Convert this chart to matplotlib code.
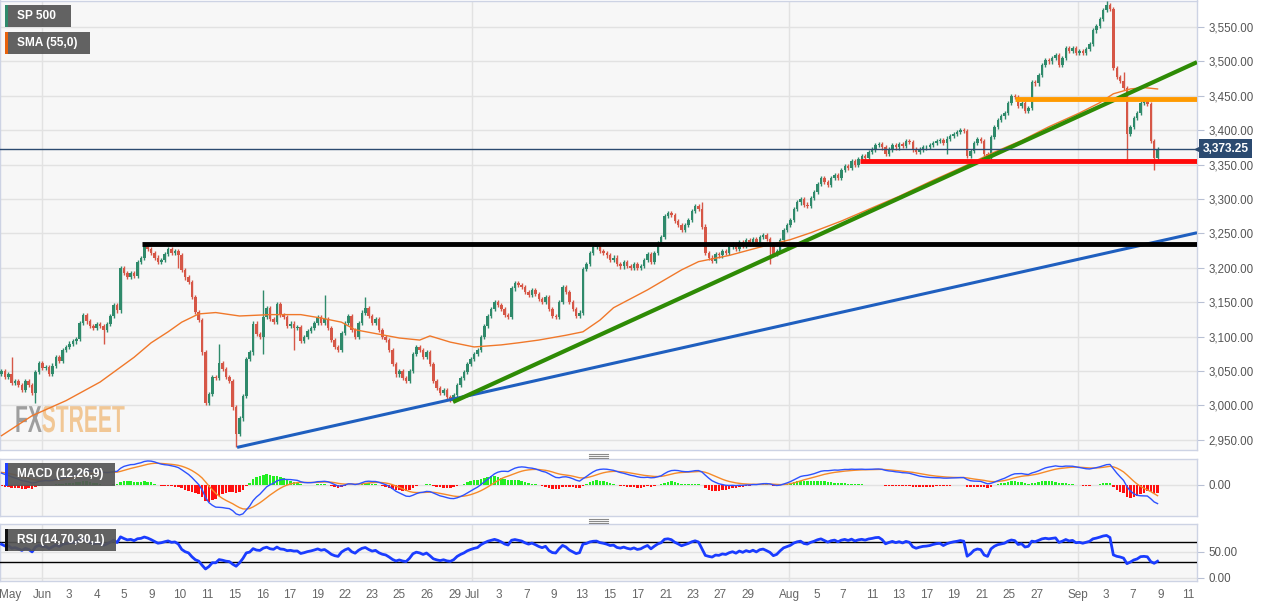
import numpy as np
import pandas as pd
import matplotlib
matplotlib.use("Agg")
import matplotlib.pyplot as plt
from matplotlib.patches import Rectangle, PathPatch
from matplotlib.lines import Line2D
from matplotlib.textpath import TextPath
from matplotlib.font_manager import FontProperties
from matplotlib.transforms import Affine2D, IdentityTransform, blended_transform_factory
from matplotlib.ticker import FuncFormatter

plt.rcParams['font.family'] = ['Liberation Sans', 'DejaVu Sans']

# ---------------- data ----------------
first_open = 3046
closes = [
    3050, 3042, 3045, 3032, 3036, 3030, 3023, 3035, 3030, 3018,
    3048, 3061, 3055, 3056, 3046, 3058, 3070, 3064, 3080, 3085,
    3090, 3093, 3097, 3120, 3132, 3122, 3116, 3112, 3118, 3116,
    3110, 3118, 3130, 3146, 3138, 3200, 3193, 3187, 3193, 3188,
    3209, 3214, 3232, 3228, 3222, 3215, 3208, 3212, 3220, 3227,
    3222, 3225, 3218, 3197, 3186, 3180, 3158, 3136, 3124, 3077,
    3003, 3017, 3041, 3040, 3061, 3053, 3041, 3036, 2997, 2959,
    2981, 3014, 3068, 3077, 3119, 3104, 3100, 3128, 3141, 3126,
    3121, 3148, 3131, 3128, 3116, 3119, 3113, 3114, 3094, 3100,
    3108, 3113, 3120, 3128, 3120, 3125, 3112, 3095, 3085, 3080,
    3105, 3120, 3130, 3110, 3100, 3120, 3135, 3142, 3130, 3120,
    3125, 3110, 3100, 3095, 3080, 3060, 3045, 3050, 3040, 3035,
    3050, 3075, 3085, 3080, 3070, 3078, 3060, 3035, 3025, 3018,
    3022, 3012, 3008, 3015, 3030, 3040, 3048, 3060, 3068, 3075,
    3080, 3100, 3115, 3130, 3140, 3150, 3146, 3140, 3132, 3128,
    3170, 3178, 3175, 3172, 3165, 3160, 3168, 3162, 3155, 3150,
    3158, 3140, 3130, 3128, 3150, 3172, 3165, 3150, 3140, 3130,
    3135, 3198, 3205, 3222, 3230, 3232, 3225, 3222, 3218, 3212,
    3215, 3205, 3202, 3208, 3203, 3200, 3206, 3200, 3203, 3212,
    3220, 3208, 3222, 3236, 3245, 3275, 3280, 3277, 3268, 3262,
    3255, 3262, 3270, 3282, 3290, 3286, 3260, 3222, 3215, 3210,
    3220, 3218, 3225, 3222, 3230, 3235, 3228, 3238, 3232, 3240,
    3235, 3242, 3235, 3245, 3248, 3242, 3235, 3220, 3225, 3240,
    3255, 3262, 3270, 3285, 3295, 3300, 3292, 3290, 3302, 3310,
    3322, 3330, 3325, 3320, 3330, 3335, 3330, 3342, 3348, 3345,
    3355, 3350, 3358, 3362, 3360, 3368, 3372, 3378, 3380, 3375,
    3365, 3372, 3378, 3375, 3380, 3377, 3385, 3383, 3372, 3368,
    3372, 3375, 3376, 3378, 3382, 3385, 3386, 3382, 3388, 3392,
    3395, 3397, 3400, 3399, 3363, 3370, 3382, 3387, 3385, 3366,
    3360, 3390, 3405, 3415, 3420, 3425, 3440, 3450, 3448, 3435,
    3440, 3428, 3432, 3470, 3468, 3480, 3495, 3502, 3500, 3505,
    3510, 3495, 3505, 3520, 3515, 3520, 3512, 3515, 3512, 3518,
    3525, 3545, 3552, 3562, 3575, 3582, 3576, 3490, 3478, 3472,
    3462, 3395, 3405, 3418, 3425, 3440, 3442, 3438, 3385, 3360,
    3373.25,
]
spike_high = {3: 3070, 64: 3090, 77: 3168, 95: 3160, 107: 3158, 206: 3296, 325: 3588, 330: 3485}
spike_low = {10: 3003, 30: 3090, 52: 3200, 69: 2940, 77: 3075, 86: 3080, 164: 3125,
             226: 3205, 278: 3365, 331: 3352, 339: 3342}

sma_bars = [0, 9, 19, 29, 39, 44, 49, 53, 58, 63, 70, 79, 88, 94, 100, 104, 117, 123, 126,
            132, 139, 147, 152, 158, 166, 171, 176, 180, 190, 200, 205, 214, 223, 232, 238,
            247, 255, 264, 273, 282, 291, 300, 308, 317, 323, 327, 332, 336, 340]
sma_values = [2956, 2985, 3007, 3034, 3070, 3091, 3107, 3121, 3133, 3135, 3130, 3132, 3132,
              3127, 3121, 3110, 3098, 3095, 3101, 3092, 3085, 3088, 3091, 3095, 3102, 3107,
              3124, 3142, 3168, 3197, 3209, 3218, 3230, 3241, 3251, 3268, 3285, 3304, 3325,
              3345, 3366, 3385, 3405, 3425, 3440, 3453, 3460, 3462, 3460]

# indicator values at the left edge of the chart
macd_start = 20.0
rsi_start = 64.0

last_price = 3373.25
black_level = (41.3, 3234)
red_level = (252.5, 3356)
orange_level = (298.0, 3445)
green_trend = ((132.8, 3005), (351.6, 3499))
blue_trend = ((69.3, 2939), (351.6, 3251))

tick_labels = ['May', 'Jun', '3', '4', '5', '9', '10', '11', '15', '16', '17', '19', '22', '23',
               '25', '26', '29', 'Jul', '3', '7', '9', '13', '15', '17', '21', '23', '27', '29',
               'Aug', '5', '7', '11', '13', '17', '19', '21', '25', '27', 'Sep', '3', '7', '9', '11']
tick_bars = [2.5, 11.9, 19.9, 28.1, 36.0, 44.3, 52.5, 60.4, 68.7, 76.9, 84.9, 93.1, 101.0, 109.0,
             116.9, 125.1, 133.4, 138.4, 146.3, 154.6, 162.5, 170.7, 179.0, 187.2, 195.4, 203.4,
             211.3, 219.5, 231.6, 239.8, 247.5, 256.0, 263.9, 272.2, 280.1, 288.4, 296.3, 304.6,
             316.6, 324.9, 332.8, 341.0, 349.0]
month_bars = [11.9, 138.4, 231.6, 316.6]

# ---------------- styling ----------------
W, H = 1269, 606
GREEN = '#2f8a6b'
RED = '#d65747'
BG = '#f7f7f7'
GRID = '#e2e2e2'
SPINE = '#cdd3e4'
XMIN, XMAX = -0.44, 351.6

fig = plt.figure(figsize=(W / 100, H / 100), dpi=100)
fig.patch.set_facecolor('white')


def fx(px):
    return px / W


def fy(py):
    return 1 - py / H


ax = fig.add_axes([0, fy(450), fx(1197), 449.5 / H])
ax_m = fig.add_axes([0, fy(516), fx(1197), 57 / H])
ax_r = fig.add_axes([0, fy(581), fx(1197), 57 / H])

for a in (ax, ax_m, ax_r):
    a.set_facecolor(BG)
    a.set_xlim(XMIN, XMAX)
    for s in a.spines.values():
        s.set_color(SPINE)
        s.set_linewidth(1)
    a.yaxis.tick_right()
    a.tick_params(axis='y', length=5, color='#b8c0d4', labelsize=8.3, labelcolor='#555555', pad=3)
    for mb in month_bars:
        a.axvline(mb, color=GRID, lw=1, zorder=0)

# ---------------- candles ----------------
c = np.array(closes, dtype=float)
o = np.r_[first_open, c[:-1]]
x = np.arange(len(c))
wick = 3.0
hi = np.maximum(o, c) + wick
lo = np.minimum(o, c) - wick
for k, v in spike_high.items():
    hi[k] = v
for k, v in spike_low.items():
    lo[k] = v
up = c >= o
for mask, col in ((up, GREEN), (~up, RED)):
    ax.vlines(x[mask], lo[mask], hi[mask], color=col, lw=1, zorder=3)
    ax.bar(x[mask], np.maximum(np.abs(c - o), 1.2)[mask], bottom=np.minimum(o, c)[mask],
           width=0.72, color=col, linewidth=0, zorder=3)

ax.plot(sma_bars, sma_values, color='#f0782a', lw=1, zorder=4)

ax.set_ylim(2935.2, 3588.6)
ax.set_yticks(np.arange(2950, 3551, 50))
ax.yaxis.set_major_formatter(FuncFormatter(lambda v, p: f"{v:,.2f}"))
ax.grid(axis='y', color=GRID, lw=1, zorder=0)
ax.set_xticks([])

# levels and trendlines
ax.plot([blue_trend[0][0], blue_trend[1][0]], [blue_trend[0][1], blue_trend[1][1]],
        color='#1f5fbf', lw=2.2, zorder=5, solid_capstyle='butt')
ax.plot([green_trend[0][0], green_trend[1][0]], [green_trend[0][1], green_trend[1][1]],
        color='#2e8b05', lw=3, zorder=5, solid_capstyle='butt')
ax.plot([black_level[0], XMAX], [black_level[1]] * 2, color='black', lw=3.5, zorder=6,
        solid_capstyle='butt')
ax.plot([red_level[0], XMAX], [red_level[1]] * 2, color='#ff0a0a', lw=3.5, zorder=6,
        solid_capstyle='butt')
ax.plot([orange_level[0], XMAX], [orange_level[1]] * 2, color='#ff9a00', lw=3.5, zorder=6,
        solid_capstyle='butt')
ax.axhline(last_price, color='#2b4a70', lw=1, zorder=6)

tr = blended_transform_factory(ax.transAxes, ax.transData)
ax.text(1.0046, last_price, f"{last_price:,.2f}", transform=tr, ha='left', va='center',
        fontsize=8.6, fontweight='bold', color='white', zorder=10, clip_on=False,
        bbox=dict(boxstyle='square,pad=0.28', fc='#2b4a70', ec='none'))
ax.plot([1.0012], [last_price], marker='<', ms=5, color='#2b4a70', transform=tr,
        clip_on=False, zorder=10)

# watermark
fp = FontProperties(family='Liberation Sans', weight='bold')
tp_fx = TextPath((0, 0), 'FX', size=39, prop=fp)
tp_st = TextPath((0, 0), 'STREET', size=39, prop=fp)
sx = 0.54
base_y = H - 432
w_fx = tp_fx.get_extents().x1 * sx
ax.add_patch(PathPatch(tp_fx, transform=Affine2D().scale(sx, 1).translate(15, base_y) + IdentityTransform(),
                       fc='#8f8f8f', ec='none', alpha=0.85, zorder=1))
ax.add_patch(PathPatch(tp_st, transform=Affine2D().scale(sx, 1).translate(15 + w_fx, base_y) + IdentityTransform(),
                       fc='#f1c28a', ec='none', alpha=0.9, zorder=1))

# ---------------- MACD (12,26,9) ----------------
a12, a26, a9 = 2 / 13, 2 / 27, 2 / 10
e12, e26 = c[0], c[0] - macd_start
sig = macd_start
macd_l, sig_l = [], []
for v in c:
    e12 = e12 + a12 * (v - e12)
    e26 = e26 + a26 * (v - e26)
    m = e12 - e26
    sig = sig + a9 * (m - sig)
    macd_l.append(m)
    sig_l.append(sig)
macd = np.array(macd_l)
signal = np.array(sig_l)
hist = macd - signal
hcol = np.where(hist >= 0, '#22ee22', '#ff1010')
ax_m.bar(x, hist, width=0.72, color=hcol, linewidth=0, zorder=2)
ax_m.plot(x, signal, color='#f58a2a', lw=1, zorder=3)
ax_m.plot(x, macd, color='#2d52ff', lw=1, zorder=4)
span = macd.max() - macd.min()
ax_m.set_ylim(macd.min() - span * 1.0 / 55, macd.max() + span * 2.0 / 55)
ax_m.set_yticks([0])
ax_m.yaxis.set_major_formatter(FuncFormatter(lambda v, p: f"{v:,.2f}"))
ax_m.grid(axis='y', color=GRID, lw=1, zorder=0)
ax_m.set_xticks([])

# ---------------- RSI (14) ----------------
deltas = np.diff(np.r_[first_open, c])
avg_loss = np.mean(np.abs(deltas[:14])) / 2
avg_gain = avg_loss * rsi_start / (100 - rsi_start)
rsi_l = []
for d in deltas:
    avg_gain = (avg_gain * 13 + max(d, 0)) / 14
    avg_loss = (avg_loss * 13 + max(-d, 0)) / 14
    rsi_l.append(100 - 100 / (1 + avg_gain / avg_loss))
rsi = np.array(rsi_l)
ax_r.plot(x, rsi, color='#1a3cff', lw=2, zorder=4)
ax_r.axhline(70, color='black', lw=1, zorder=3)
ax_r.axhline(30, color='black', lw=1, zorder=3)
ax_r.set_ylim(-5.8, 103.8)
ax_r.set_yticks([0, 50])
ax_r.yaxis.set_major_formatter(FuncFormatter(lambda v, p: f"{v:,.2f}"))
ax_r.grid(axis='y', color=GRID, lw=1, zorder=0)
ax_r.set_xticks(tick_bars)
ax_r.set_xticklabels(tick_labels)
ax_r.tick_params(axis='x', length=0, pad=6, labelsize=8.5, labelcolor='#666666')


# ---------------- legend boxes ----------------
def legend_box(x0, y0, w, h, text, strip):
    fig.add_artist(Rectangle((fx(x0), fy(y0 + h)), w / W, h / H, transform=fig.transFigure,
                             fc='#555555', ec='none', alpha=0.92, zorder=20))
    fig.add_artist(Rectangle((fx(x0), fy(y0 + h)), 2.6 / W, h / H, transform=fig.transFigure,
                             fc=strip, ec='none', zorder=21))
    fig.text(fx(x0 + 12), fy(y0 + h / 2), text, color='white', fontsize=8.6, fontweight='bold',
             va='center', ha='left', zorder=22)


legend_box(5, 5, 66, 22, 'SP 500', GREEN)
legend_box(5, 32, 85, 22, 'SMA (55,0)', '#e8620c')
legend_box(5, 463, 110, 23, 'MACD (12,26,9)', '#1f3fff')
legend_box(5, 529, 111, 22, 'RSI (14,70,30,1)', '#111111')

# pane separator handles
for yy in (453.5, 455.5, 457.5, 518.5, 520.5, 522.5):
    fig.add_artist(Line2D([fx(589), fx(608)], [fy(yy), fy(yy)], transform=fig.transFigure,
                          color='#8a8a8a', lw=0.8))

fig.savefig('out.png', dpi=100, facecolor='white')
